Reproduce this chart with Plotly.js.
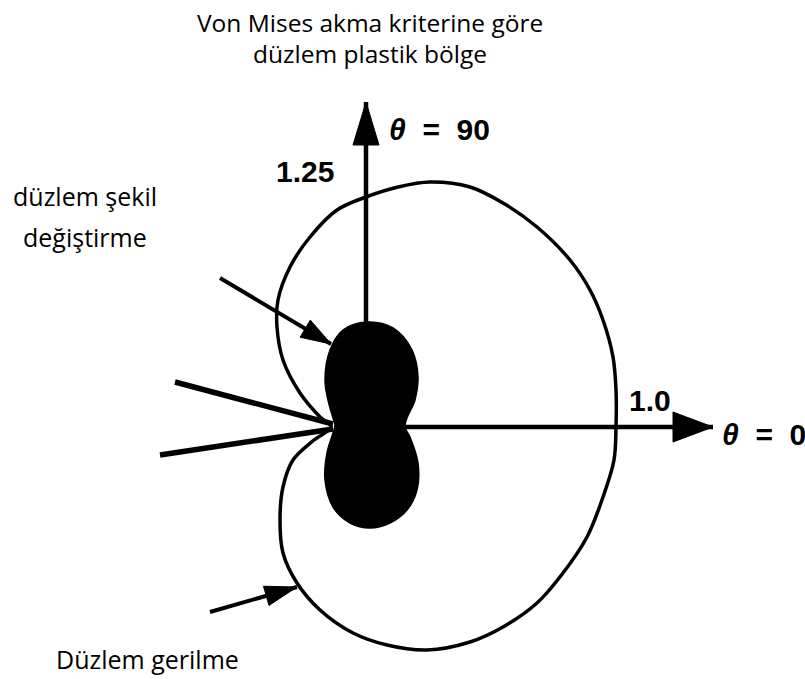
<!DOCTYPE html>
<html>
<head>
<meta charset="utf-8">
<script src="https://cdn.plot.ly/plotly-3.0.1.min.js"></script>
<style>html,body{margin:0;padding:0;background:#fff}#chart{width:805px;height:679px}</style>
</head>
<body>
<div id="chart"></div>
<script>
// Outer contour: plane stress plastic zone (units r/r(θ=0))
const planeStressX = [-0.14,-0.184,-0.264,-0.332,-0.356,-0.352,-0.304,-0.224,-0.116,0,0.128,0.256,0.416,0.548,0.684,0.816,0.896,0.948,0.988,1.0,1.0,0.992,0.948,0.884,0.788,0.684,0.548,0.416,0.244,0.084,-0.052,-0.184,-0.276,-0.332,-0.344,-0.332,-0.292,-0.208,-0.14];
const planeStressY = [0,0.04,0.136,0.268,0.4,0.508,0.64,0.76,0.868,0.92,0.96,0.98,0.96,0.896,0.8,0.668,0.548,0.428,0.28,0.148,0,-0.132,-0.28,-0.44,-0.584,-0.704,-0.8,-0.86,-0.892,-0.872,-0.824,-0.732,-0.624,-0.504,-0.372,-0.24,-0.132,-0.052,0];
// Inner filled contour: plane strain plastic zone
const planeStrainX = [-0.124,-0.132,-0.152,-0.164,-0.144,-0.092,0.004,0.108,0.184,0.208,0.196,0.164,0.156,0.176,0.208,0.204,0.164,0.096,0.016,-0.064,-0.132,-0.164,-0.156,-0.132,-0.124];
const planeStrainY = [0.008,0.036,0.108,0.188,0.308,0.388,0.42,0.396,0.308,0.2,0.108,0.036,0,-0.04,-0.144,-0.252,-0.332,-0.384,-0.404,-0.384,-0.32,-0.212,-0.104,-0.024,0.008];
// Crack flanks
const crackUpperX = [-0.764,-0.132], crackUpperY = [0.18,0.012];
const crackLowerX = [-0.824,-0.132], crackLowerY = [-0.112,-0.008];
// Axes (θ = 0 and θ = 90 directions)
const axis0X = [0.156,1.388], axis0Y = [0,0];
const axis90X = [0,0], axis90Y = [0.42,1.3];
// Pointer arrows: start, tip
const pointerStrainX = [-0.584,-0.14], pointerStrainY = [0.596,0.332];
const pointerStressX = [-0.624,-0.276], pointerStressY = [-0.74,-0.64];
// Labels
const titleLines = ["Von Mises akma kriterine göre","düzlem plastik bölge"];
const strainLabel = ["düzlem şekil","değiştirme"];
const stressLabel = "Düzlem gerilme";
const tickLabels = {r0:"1.0", r90:"1.25"};
const angleLabels = {a0:"<i>θ</i>  =  0", a90:"<i>θ</i>  =  90"};

const xr = [-1.464, 1.756], yr = [-1.008, 1.708];
const W = 805, H = 679;
const pxX = W/(xr[1]-xr[0]), pxY = H/(yr[1]-yr[0]);

function head(xs, ys, lenPx, halfPx){
  const x0=xs[0], y0=ys[0], x1=xs[1], y1=ys[1];
  let dx=(x1-x0)*pxX, dy=(y1-y0)*pxY; const L=Math.hypot(dx,dy); dx/=L; dy/=L;
  const bx=-dx*lenPx, by=-dy*lenPx; const nx=-dy*halfPx, ny=dx*halfPx;
  return {
    x:[x1, x1+(bx+nx)/pxX, x1+(bx-nx)/pxX, x1],
    y:[y1, y1+(by+ny)/pxY, y1+(by-ny)/pxY, y1]
  };
}
function line(x,y,w){return {x:x,y:y,mode:'lines',type:'scatter',line:{color:'#000',width:w},hoverinfo:'skip'};}
function tri(h){return {x:h.x,y:h.y,mode:'lines',type:'scatter',fill:'toself',fillcolor:'#000',line:{color:'#000',width:1},hoverinfo:'skip'};}

const traces = [
  line(planeStressX, planeStressY, 3.5),
  {x:planeStrainX,y:planeStrainY,mode:'lines',type:'scatter',fill:'toself',fillcolor:'#000',line:{color:'#000',width:1.5,shape:'spline'},hoverinfo:'skip'},
  line(crackUpperX, crackUpperY, 5.5),
  line(crackLowerX, crackLowerY, 5.5),
  line(axis0X, axis0Y, 4.5),
  line(axis90X, axis90Y, 4.5),
  tri(head(axis0X, axis0Y, 40, 15)),
  tri(head(axis90X, axis90Y, 43, 13)),
  line(pointerStrainX, pointerStrainY, 4),
  tri(head(pointerStrainX, pointerStrainY, 30, 10)),
  line(pointerStressX, pointerStressY, 4),
  tri(head(pointerStressX, pointerStressY, 32, 10))
];
traces[0].line.shape='spline';

const sans = {family:'"Open Sans", sans-serif', size:24.5, color:'#000'};
const sansL = {family:'"Open Sans", sans-serif', size:25, color:'#000'};
const bold = {family:'"Liberation Sans", Arial, sans-serif', size:30, color:'#000', weight:'bold'};
function ann(text,x,y,font,xanchor){return {text:text,x:x,y:y,xref:'x',yref:'y',showarrow:false,font:font,xanchor:xanchor||'center',yanchor:'middle'};}

const layout = {
  width:W, height:H, margin:{l:0,r:0,t:0,b:0},
  paper_bgcolor:'#fff', plot_bgcolor:'#fff', showlegend:false,
  xaxis:{range:xr, visible:false, fixedrange:true},
  yaxis:{range:yr, visible:false, fixedrange:true},
  annotations:[
    ann(titleLines[0], 0.016, 1.62, sans),
    ann(titleLines[1], 0.016, 1.496, sans),
    ann(strainLabel[0], -1.124, 0.924, sansL),
    ann(strainLabel[1], -1.124, 0.76, sansL),
    ann(stressLabel, -0.876, -0.928, sansL),
    ann(angleLabels.a90, 0.084, 1.192, bold, 'left'),
    ann(tickLabels.r90, -0.244, 1.024, bold),
    ann(tickLabels.r0, 1.044, 0.108, bold, 'left'),
    ann(angleLabels.a0, 1.416, -0.028, bold, 'left')
  ]
};
Plotly.newPlot('chart', traces, layout, {staticPlot:true, displayModeBar:false});
</script>
</body>
</html>
